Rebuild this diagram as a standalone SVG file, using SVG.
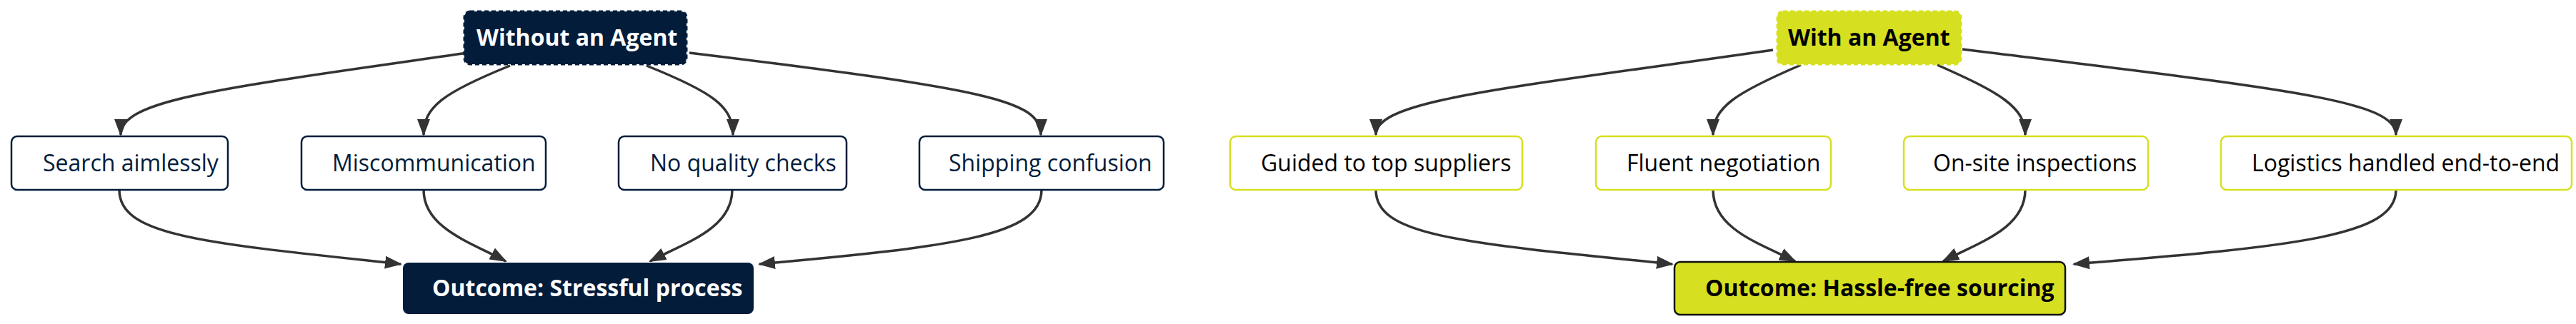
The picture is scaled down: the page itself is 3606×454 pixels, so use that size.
<svg xmlns="http://www.w3.org/2000/svg" width="3606" height="454" viewBox="0 0 3606 454">
<style>
text{font-family:"Open Sans","Liberation Sans",sans-serif;font-size:32px}
.b{font-weight:bold}
.e{fill:none;stroke:#333;stroke-width:3.5;marker-end:url(#ah)}
.ln{fill:#fff;stroke:#031c3a;stroke-width:2.5}
.ly{fill:#fff;stroke:#d6e021;stroke-width:2.5}
</style>
<defs><marker id="ah" markerUnits="userSpaceOnUse" markerWidth="24" markerHeight="18" refX="22" refY="9" orient="auto"><path d="M0,0L24,9L0,18z" fill="#333"/></marker></defs>
<rect width="3606" height="454" fill="#fff"/>
<g id="connectors">
<path class="e" d="M654,74 C300,125 169,140 169,189"/>
<path class="e" d="M714,92 C620,130 593,150 593,189"/>
<path class="e" d="M905,92 C1000,130 1026,150 1026,189"/>
<path class="e" d="M965,74 C1380,125 1457,140 1457,189"/>
<path class="e" d="M167,266 C167,330 280,340 561,370"/>
<path class="e" d="M593,266 C593,320 660,340 708,366"/>
<path class="e" d="M1025,266 C1025,320 960,340 910,366"/>
<path class="e" d="M1458,266 C1458,330 1340,345 1063,370"/>
<path class="e" d="M2482,70 C2100,125 1926,140 1926,189"/>
<path class="e" d="M2521,91 C2430,130 2398,150 2398,189"/>
<path class="e" d="M2712,91 C2800,130 2835,150 2835,189"/>
<path class="e" d="M2747,69 C3200,125 3354,140 3354,189"/>
<path class="e" d="M1926,266 C1926,330 2040,340 2341,370"/>
<path class="e" d="M2398,266 C2398,320 2460,340 2513,366"/>
<path class="e" d="M2835,266 C2835,320 2770,340 2720,366"/>
<path class="e" d="M3354,266 C3354,330 3220,345 2903,370"/>
</g>
<g id="n-without"><rect x="650" y="16" width="311" height="74" rx="8" fill="#031c3a" stroke="#031c3a" stroke-width="3" stroke-dasharray="6,4"/><text class="b" x="667" y="64" fill="#fff">Without an Agent</text></g>
<g id="n-search"><rect class="ln" x="16" y="191" width="303" height="75" rx="8"/><text x="60" y="240" fill="#031c3a">Search aimlessly</text></g>
<g id="n-miscomm"><rect class="ln" x="422" y="191" width="342" height="75" rx="8"/><text x="465" y="240" fill="#031c3a">Miscommunication</text></g>
<g id="n-noqc"><rect class="ln" x="866" y="191" width="319" height="75" rx="8"/><text x="910" y="240" fill="#031c3a">No quality checks</text></g>
<g id="n-ship"><rect class="ln" x="1287" y="191" width="342" height="75" rx="8"/><text x="1328" y="240" fill="#031c3a">Shipping confusion</text></g>
<g id="n-stress"><rect x="564" y="368" width="491" height="72" rx="8" fill="#031c3a"/><text class="b" x="605" y="415" fill="#fff">Outcome: Stressful process</text></g>
<g id="n-with"><rect x="2488" y="16" width="257" height="74" rx="8" fill="#d6e021" stroke="#d6e021" stroke-width="3" stroke-dasharray="6,4"/><text class="b" x="2503" y="64" fill="#000">With an Agent</text></g>
<g id="n-guided"><rect class="ly" x="1722" y="191" width="409" height="75" rx="8"/><text x="1765" y="240" fill="#000">Guided to top suppliers</text></g>
<g id="n-fluent"><rect class="ly" x="2234" y="191" width="329" height="75" rx="8"/><text x="2277" y="240" fill="#000">Fluent negotiation</text></g>
<g id="n-onsite"><rect class="ly" x="2665" y="191" width="342" height="75" rx="8"/><text x="2706" y="240" fill="#000">On-site inspections</text></g>
<g id="n-logistics"><rect class="ly" x="3109" y="191" width="491" height="75" rx="8"/><text x="3152" y="240" fill="#000">Logistics handled end-to-end</text></g>
<g id="n-hassle"><rect x="2344" y="367" width="547" height="74" rx="8" fill="#d6e021" stroke="#111" stroke-width="2.5"/><text class="b" x="2387" y="415" fill="#000">Outcome: Hassle-free sourcing</text></g>
</svg>
